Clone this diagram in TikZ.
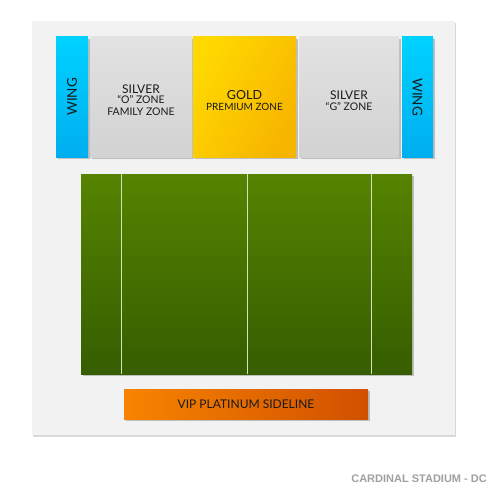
\documentclass[tikz,border=0pt]{standalone}
\usepackage{fontspec}
\setmainfont{Lato}
\newfontfamily\footfont{Liberation Sans}
\usetikzlibrary{shadows}

\definecolor{panelgray}{HTML}{F2F2F2}
\definecolor{wingtop}{HTML}{00D2FF}
\definecolor{wingbot}{HTML}{00AEEF}
\definecolor{silvertop}{HTML}{E2E2E2}
\definecolor{silverbot}{HTML}{D2D2D2}
\definecolor{goldtop}{HTML}{FFD800}
\definecolor{goldbot}{HTML}{F7B500}
\definecolor{fieldtop}{HTML}{568300}
\definecolor{fieldbot}{HTML}{365D00}
\definecolor{vipleft}{HTML}{F88400}
\definecolor{vipright}{HTML}{D05000}
\definecolor{textgray}{HTML}{1A1A1A}
\definecolor{footgray}{HTML}{A0A0A0}

\tikzset{
  box/.style={inner sep=0pt, outer sep=0pt, align=center, text=textgray,
    drop shadow={shadow xshift=2pt, shadow yshift=-2pt, opacity=.45}},
  wing/.style={box, top color=wingtop, bottom color=wingbot},
  wingtext/.style={text=textgray, font=\fontsize{13.5}{14}\selectfont},
  silver/.style={box, top color=silvertop, bottom color=silverbot},
  gold/.style={box, left color=goldtop, right color=goldbot, shading angle=60},
  yardline/.style={draw=white!75!fieldtop, line width=1pt}
}

\begin{document}
\begin{tikzpicture}[x=1pt, y=-1pt]
  \useasboundingbox (0,0) rectangle (500,500);
  \fill[white] (0,0) rectangle (500,500);

  % backdrop
  \node[inner sep=0pt, fill=panelgray, minimum width=423pt, minimum height=414pt,
    drop shadow={shadow xshift=1pt, shadow yshift=-2pt, opacity=.3}] (panel) at (243.5,228) {};

  % upper zones
  \node[wing, minimum width=32pt, minimum height=120pt] (wingL) at (72,97) {};
  \node[wingtext, rotate=90] (wingLtext) at (wingL) {WING};
  \node[silver, minimum width=102pt, minimum height=120pt] (silverO) at (141,97) {};
  \node[text=textgray, align=center] (silverOtext) at (141,100)
    {\fontsize{12}{12}\selectfont SILVER\\[-2pt]
     \fontsize{10.5}{10}\selectfont “O” ZONE\\[-0.5pt]
     \fontsize{10.5}{10}\selectfont FAMILY ZONE};
  \node[gold, minimum width=103pt, minimum height=120pt] (gold) at (244.5,97) {};
  \node[text=textgray, align=center] (goldtext) at (244.5,100.5)
    {\fontsize{12.5}{12}\selectfont GOLD\\[-1pt]
     \fontsize{10}{10}\selectfont PREMIUM ZONE};
  \node[silver, minimum width=100pt, minimum height=120pt] (silverG) at (349,97) {};
  \node[text=textgray, align=center] (silverGtext) at (349,100.5)
    {\fontsize{12}{12}\selectfont SILVER\\[-1.5pt]
     \fontsize{10.5}{10}\selectfont “G” ZONE};
  \node[wing, minimum width=31pt, minimum height=120pt] (wingR) at (417.5,97) {};
  \node[wingtext, rotate=-90] (wingRtext) at (wingR) {WING};

  % field
  \node[box, top color=fieldtop, bottom color=fieldbot, minimum width=331pt,
    minimum height=200pt] (field) at (246.5,274) {};
  \foreach \x in {121,247,371}
    \draw[yardline] (\x,0 |- field.north) -- (\x,0 |- field.south);

  % sideline
  \node[box, left color=vipleft, right color=vipright, minimum width=244pt,
    minimum height=30pt, font=\fontsize{12}{12}\selectfont] (vip) at (246,404)
    {VIP PLATINUM SIDELINE};

  \node[anchor=east, inner sep=0pt, text=footgray,
    font=\footfont\bfseries\fontsize{11}{12}\selectfont] (title) at (487,479)
    {CARDINAL STADIUM - DC};
\end{tikzpicture}
\end{document}
